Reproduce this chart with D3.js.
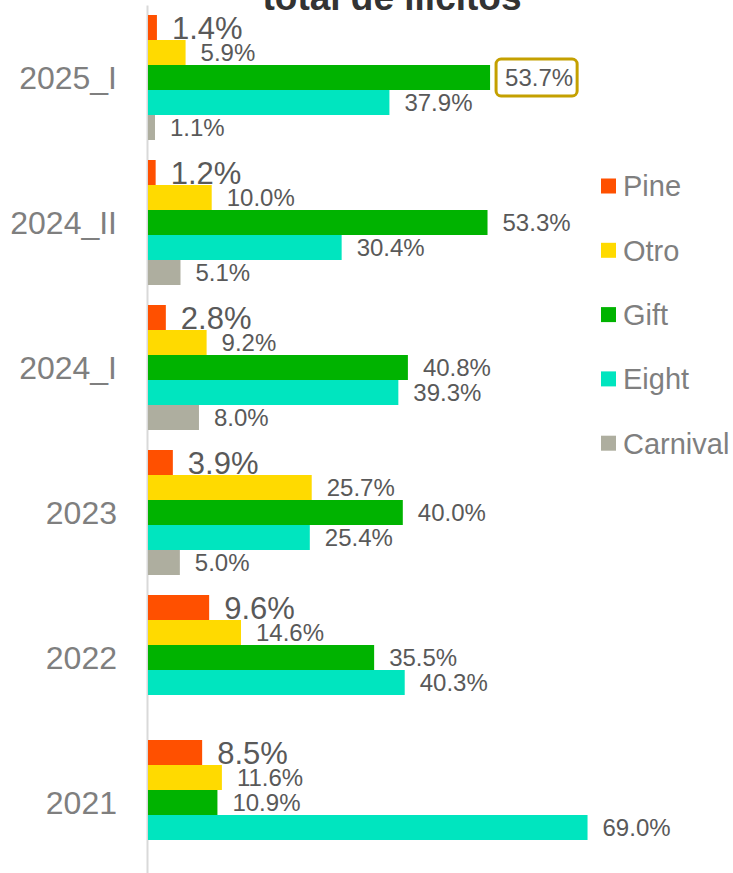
<!DOCTYPE html>
<html>
<head>
<meta charset="utf-8">
<script src="https://cdn.jsdelivr.net/npm/d3@7"></script>
<style>
  html, body { margin: 0; padding: 0; background: #fff; }
  svg { display: block; }
  text { font-family: "Liberation Sans", Arial, sans-serif; }
</style>
</head>
<body>
<svg id="chart" width="733" height="873"></svg>
<script>
const titleText = "total de ilícitos";
const categories = ["2025_I", "2024_II", "2024_I", "2023", "2022", "2021"];
const seriesNames = ["Pine", "Otro", "Gift", "Eight", "Carnival"];
const seriesColors = ["#FF5000", "#FFDA00", "#00B300", "#00E5BF", "#AEAE9F"];
const pine     = [1.4, 1.2, 2.8, 3.9, 9.6, 8.5];
const otro     = [5.9, 10.0, 9.2, 25.7, 14.6, 11.6];
const gift     = [53.7, 53.3, 40.8, 40.0, 35.5, 10.9];
const eight    = [37.9, 30.4, 39.3, 25.4, 40.3, 69.0];
const carnival = [1.1, 5.1, 8.0, 5.0, null, null];
const seriesValues = [pine, otro, gift, eight, carnival];
const highlighted = { category: "2025_I", series: "Gift" };

const svg = d3.select("#chart");

const x = d3.scaleLinear().domain([0, 100]).range([147, 147 + 637]);
const y = d3.scaleBand().domain(categories).range([5, 875])
  .paddingInner(20 / 145).paddingOuter(10 / 145);
const ySub = d3.scaleBand().domain(seriesNames).range([0, y.bandwidth()]);
const color = d3.scaleOrdinal().domain(seriesNames).range(seriesColors);

const records = [];
categories.forEach((c, i) => {
  seriesNames.forEach((s, j) => {
    const v = seriesValues[j][i];
    if (v !== null && v !== undefined) records.push({ cat: c, series: s, value: v });
  });
});

// axis line
const yAxis = d3.axisLeft(y).tickSize(0).tickFormat("");
svg.append("g").attr("transform", `translate(${x(0)},0)`).call(yAxis)
  .call(g => g.select(".domain").attr("stroke", "#d9d9d9").attr("stroke-width", 2));

// bars
svg.append("g").selectAll("rect").data(records).join("rect")
  .attr("x", x(0) + 1)
  .attr("y", d => y(d.cat) + ySub(d.series))
  .attr("width", d => x(d.value) - x(0))
  .attr("height", ySub.bandwidth())
  .attr("fill", d => color(d.series));

// data labels
const labels = svg.append("g").selectAll("text").data(records).join("text")
  .attr("x", d => x(d.value) + 16)
  .attr("y", d => y(d.cat) + ySub(d.series) + ySub.bandwidth() / 2)
  .attr("dy", "0.36em")
  .attr("fill", "#595959")
  .attr("font-size", d => d.series === "Pine" ? 31 : 24)
  .text(d => d.value.toFixed(1) + "%");

// highlight box
labels.filter(d => d.cat === highlighted.category && d.series === highlighted.series)
  .each(function(d) {
    const bb = this.getBBox();
    svg.append("rect")
      .attr("x", bb.x - 9).attr("y", y(d.cat) + ySub(d.series) + ySub.bandwidth() / 2 - 18.5)
      .attr("width", bb.width + 13).attr("height", 37)
      .attr("rx", 5).attr("ry", 5)
      .attr("fill", "none").attr("stroke", "#C4A000").attr("stroke-width", 3);
  });

// category labels
svg.append("g").selectAll("text").data(categories).join("text")
  .attr("x", 117)
  .attr("y", d => y(d) + ySub("Gift") + ySub.bandwidth() / 2)
  .attr("dy", "0.36em")
  .attr("text-anchor", "end")
  .attr("fill", "#7f7f7f")
  .attr("font-size", 32)
  .text(d => d);

// legend
const legend = svg.append("g").selectAll("g").data(seriesNames).join("g")
  .attr("transform", (d, i) => `translate(601, ${186 + i * 64.3})`);
legend.append("rect").attr("x", 0).attr("y", -7.5).attr("width", 15).attr("height", 15)
  .attr("fill", d => color(d));
legend.append("text").attr("x", 22).attr("y", 0).attr("dy", "0.36em")
  .attr("fill", "#7f7f7f").attr("font-size", 29).text(d => d);

// title (partially cut at top)
svg.append("text").attr("x", 392).attr("y", 10).attr("text-anchor", "middle")
  .attr("font-size", 37).attr("font-weight", "bold").attr("fill", "#333333")
  .text(titleText);
</script>
</body>
</html>
